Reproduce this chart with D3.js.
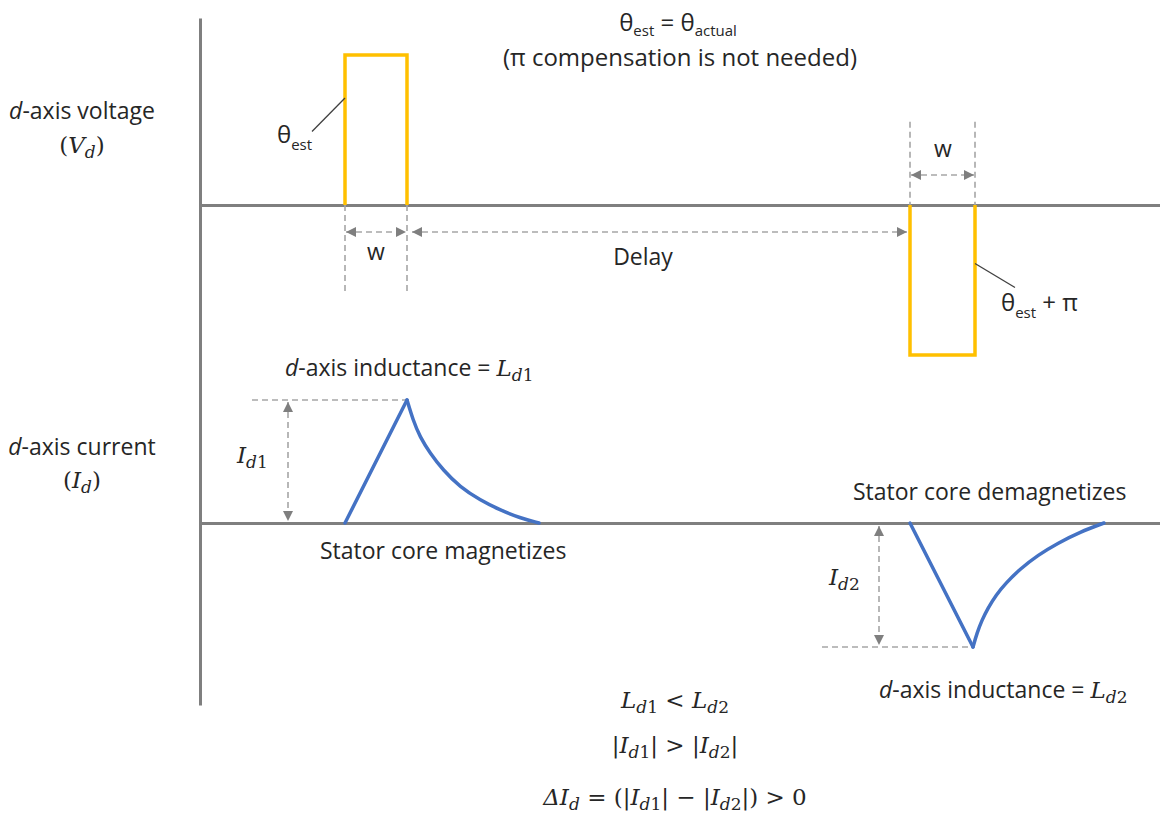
<!DOCTYPE html>
<html><head><meta charset="utf-8">
<script src="https://cdn.jsdelivr.net/npm/d3@7/dist/d3.min.js"></script>
<style>body{margin:0;background:#fff}svg{display:block}</style>
</head><body><svg id="c" width="1160" height="816"></svg>
<script>
// ---- data (time in arbitrary units, voltage normalised, current normalised) ----
const timeDomain = [0, 9.6];
const pulseStarts = [1.45, 7.10];
const pulseEnds = [2.07, 7.75];
const pulseLevels = [1, -1];
const riseMag = [[1.45, 0], [2.07, 1.23]];
const decayMag = [[2.07, 1.23], [2.13, 1.03], [2.20, 0.86], [2.30, 0.70], [2.43, 0.53], [2.60, 0.36], [2.80, 0.23], [3.00, 0.13], [3.20, 0.05], [3.39, 0]];
const riseDemag = [[7.10, 0], [7.73, -1.24]];
const decayDemag = [[7.73, -1.24], [7.77, -1.10], [7.82, -0.97], [7.88, -0.85], [7.96, -0.72], [8.06, -0.60], [8.20, -0.46], [8.38, -0.32], [8.58, -0.20], [8.80, -0.09], [9.04, 0]];

const svg = d3.select("#c");
const x = d3.scaleLinear().domain(timeDomain).range([200, 1160]);
const yV = d3.scaleLinear().domain([-1, 1]).range([355, 55]);
const yI = d3.scaleLinear().domain([-1.25, 1.25]).range([648, 398]);
const yFull = d3.scaleLinear().domain([0, 1]).range([705, 18]);

const GRAY = "#7f7f7f", DASH = "#a6a6a6", ORANGE = "#FFC000", BLUE = "#4472C4", TXT = "#262626";
const SANS = "'Open Sans', sans-serif", MATH = "'DejaVu Serif', serif";

// markers
const defs = svg.append("defs");
defs.append("marker").attr("id", "ah").attr("viewBox", "0 0 10 10").attr("refX", 10).attr("refY", 5)
  .attr("markerWidth", 11).attr("markerHeight", 10).attr("markerUnits", "userSpaceOnUse")
  .attr("orient", "auto-start-reverse")
  .append("path").attr("d", "M0,0L10,5L0,10z").attr("fill", GRAY);

// axes (no ticks)
function styleAxis(g) { g.select(".domain").attr("stroke", GRAY).attr("stroke-width", 3); g.selectAll(".tick").remove(); }
svg.append("g").attr("transform", `translate(0,${yV(0)})`).call(d3.axisBottom(x).tickValues([]).tickSizeOuter(0)).call(styleAxis);
svg.append("g").attr("transform", `translate(0,${yI(0)})`).call(d3.axisBottom(x).tickValues([]).tickSizeOuter(0)).call(styleAxis);
svg.append("g").attr("transform", `translate(${x(0)},0)`).call(d3.axisLeft(yFull).tickValues([]).tickSizeOuter(0)).call(styleAxis);

// dashed helpers
function dashed(x1, y1, x2, y2, arrows) {
  const l = svg.append("line").attr("x1", x1).attr("y1", y1).attr("x2", x2).attr("y2", y2)
    .attr("stroke", DASH).attr("stroke-width", 1.6).attr("stroke-dasharray", "6,4");
  if (arrows) l.attr("marker-start", "url(#ah)").attr("marker-end", "url(#ah)");
  return l;
}
[pulseStarts[0], pulseEnds[0]].forEach(t => dashed(x(t), yV(0), x(t), yV(-0.58)));
[pulseStarts[1], pulseEnds[1]].forEach(t => dashed(x(t), yV(0.555), x(t), yV(0)));
dashed(x(pulseStarts[0]) + 1, yV(-0.18), x(pulseEnds[0]) - 1, yV(-0.18), true);
dashed(x(pulseEnds[0]) + 5, yV(-0.18), x(pulseStarts[1]) - 3, yV(-0.18), true);
dashed(x(pulseStarts[1]) + 1, yV(0.2), x(pulseEnds[1]) - 1, yV(0.2), true);

// current peak guides
dashed(x(0.52), yI(riseMag[1][1]), x(riseMag[1][0]), yI(riseMag[1][1]));
dashed(x(0.88), yI(riseMag[1][1]) + 2, x(0.88), yI(0) - 2, true);
dashed(x(6.22), yI(riseDemag[1][1]), x(riseDemag[1][0]), yI(riseDemag[1][1]));
dashed(x(6.79), yI(0) + 3, x(6.79), yI(riseDemag[1][1]) - 2, true);

// voltage pulses
const vLine = d3.line().x(d => x(d[0])).y(d => yV(d[1]));
pulseStarts.forEach((s, i) => {
  const pts = [[s, 0], [s, pulseLevels[i]], [pulseEnds[i], pulseLevels[i]], [pulseEnds[i], 0]];
  svg.append("path").attr("d", vLine(pts)).attr("fill", "none").attr("stroke", ORANGE)
    .attr("stroke-width", 3.5).attr("stroke-linejoin", "miter");
});

// current curves
const iLin = d3.line().x(d => x(d[0])).y(d => yI(d[1]));
const iCurve = d3.line().x(d => x(d[0])).y(d => yI(d[1])).curve(d3.curveBasis);
[[riseMag, decayMag], [riseDemag, decayDemag]].forEach(([r, dcy]) => {
  svg.append("path").attr("d", iLin(r)).attr("fill", "none").attr("stroke", BLUE).attr("stroke-width", 3.5).attr("stroke-linecap", "round");
  svg.append("path").attr("d", iCurve(dcy)).attr("fill", "none").attr("stroke", BLUE).attr("stroke-width", 3.5).attr("stroke-linecap", "round");
});

// leader lines
svg.append("line").attr("x1", x(1.12)).attr("y1", yV(0.49)).attr("x2", x(1.45)).attr("y2", yV(0.713)).attr("stroke", "#404040").attr("stroke-width", 1.3);
svg.append("line").attr("x1", x(7.75)).attr("y1", yV(-0.39)).attr("x2", x(8.15)).attr("y2", yV(-0.55)).attr("stroke", "#404040").attr("stroke-width", 1.3);

// rich text helper
function rich(px, py, anchor, segs, size) {
  const t = svg.append("text").attr("x", px).attr("y", py).attr("text-anchor", anchor).attr("fill", TXT)
    .attr("font-family", SANS).attr("font-size", size || 23);
  let cur = 0;
  segs.forEach(s => {
    const sp = t.append("tspan").text(s.t);
    const off = s.dy || 0;
    if (off !== cur) { sp.attr("dy", off - cur); cur = off; }
    if (s.f === "m") sp.attr("font-family", MATH);
    if (s.i) sp.attr("font-style", "italic");
    if (s.s) sp.attr("font-size", s.s);
    if (s.dx) sp.attr("dx", s.dx);
  });
  return t;
}
const M = (t, o) => Object.assign({ t, f: "m", i: true, s: 23 }, o || {});
const sub = (t, o) => Object.assign({ t, f: "m", i: true, s: 17, dy: 5 }, o || {});

// left labels
rich(82, 119, "middle", [{ t: "d", i: true }, { t: "-axis voltage" }]);
rich(82, 153, "middle", [M("(", { i: false }), M("V"), sub("d"), M(")", { i: false, dy: 0 })]);
rich(82, 455, "middle", [{ t: "d", i: true }, { t: "-axis current" }]);
rich(82, 488, "middle", [M("(", { i: false }), M("I"), sub("d"), M(")", { i: false, dy: 0 })]);

// top title
rich(678, 31, "middle", [{ t: "θ" }, { t: "est", s: 15, dy: 5 }, { t: " = θ", dy: 0 }, { t: "actual", s: 15, dy: 5 }], 24);
rich(680, 66, "middle", [{ t: "(π compensation is not needed)" }], 24);

// theta labels
rich(277, 143, "start", [{ t: "θ" }, { t: "est", s: 15, dy: 7 }], 24);
rich(1001, 311, "start", [{ t: "θ" }, { t: "est", s: 15, dy: 7 }, { t: " + π", dy: 0 }], 24);

// w / delay labels
rich(376, 260, "middle", [{ t: "w" }]);
rich(943, 157, "middle", [{ t: "w" }]);
rich(643, 265, "middle", [{ t: "Delay" }]);

// inductance labels
rich(285, 376, "start", [{ t: "d", i: true }, { t: "-axis inductance = " }, M("L"), sub("d"), sub("1", { i: false })]);
rich(879, 698, "start", [{ t: "d", i: true }, { t: "-axis inductance = " }, M("L"), sub("d"), sub("2", { i: false })]);
rich(320, 559, "start", [{ t: "Stator core magnetizes" }]);
rich(853, 500, "start", [{ t: "Stator core demagnetizes" }]);

// peak labels
rich(237, 463, "start", [M("I"), sub("d"), sub("1", { i: false })]);
rich(829, 585, "start", [M("I"), sub("d"), sub("2", { i: false })]);

// bottom equations
rich(675, 708, "middle", [M("L"), sub("d"), sub("1", { i: false }), M(" < ", { i: false, dy: 0 }), M("L"), sub("d"), sub("2", { i: false })]);
rich(675, 753, "middle", [M("|", { i: false }), M("I"), sub("d"), sub("1", { i: false }), M("| > |", { i: false, dy: 0 }), M("I"), sub("d"), sub("2", { i: false }), M("|", { i: false, dy: 0 })]);
rich(675, 805, "middle", [M("ΔI"), sub("d"), M(" = (|", { i: false, dy: 0 }), M("I"), sub("d"), sub("1", { i: false }), M("| − |", { i: false, dy: 0 }), M("I"), sub("d"), sub("2", { i: false }), M("|) > 0", { i: false, dy: 0 })]);
</script></body></html>
